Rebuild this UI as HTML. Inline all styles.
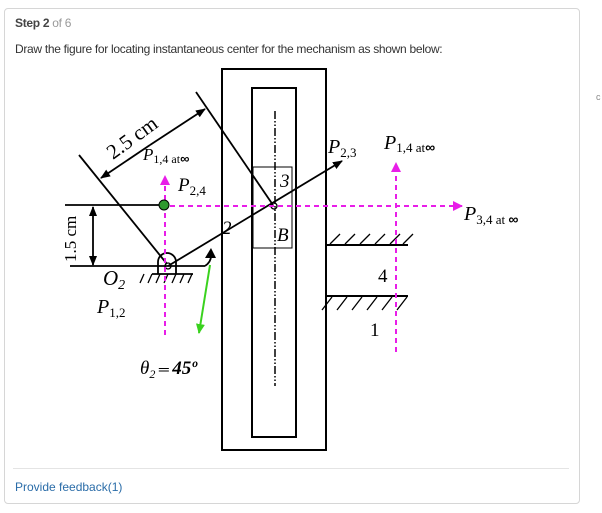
<!DOCTYPE html>
<html><head><meta charset="utf-8"><style>
body{margin:0;width:602px;height:513px;background:#fff;font-family:"Liberation Sans",Arial,sans-serif;position:relative;overflow:hidden}
.card{position:absolute;left:4px;top:8px;width:574px;height:494px;border:1px solid #d6d6d6;border-radius:4px;background:#fff}
.t1{position:absolute;left:15px;top:16px;font-size:12px;color:#444;font-weight:bold;letter-spacing:-0.3px}
.t1 span{font-weight:normal;color:#999}
.t2{position:absolute;left:15px;top:42px;font-size:12px;color:#333;letter-spacing:-0.3px}
.sep{position:absolute;left:13px;top:468px;width:556px;height:1px;background:#e4e4e4}
.fb{position:absolute;left:15px;top:480px;font-size:12px;color:#2a6ca8}
svg{position:absolute;left:0;top:0}
</style></head><body>
<div class="card"></div>
<div class="t1">Step 2 <span>of 6</span></div>
<div class="t2">Draw the figure for locating instantaneous center for the mechanism as shown below:</div>
<div class="sep"></div>
<div class="fb">Provide feedback(1)</div>
<div style="position:absolute;left:596px;top:92px;font-size:9px;color:#888">c</div>
<svg width="602" height="513" font-family="'Liberation Serif',serif">
<defs>
<marker id="ab" markerWidth="10" markerHeight="8" refX="9" refY="4" orient="auto" markerUnits="userSpaceOnUse"><path d="M0,0L10,4L0,8z" fill="#000"/></marker>
<marker id="am" markerWidth="10" markerHeight="10" refX="9" refY="5" orient="auto" markerUnits="userSpaceOnUse"><path d="M0,0L10,5L0,10z" fill="#e81ee8"/></marker>
<marker id="ag" markerWidth="10" markerHeight="9" refX="9" refY="4.5" orient="auto" markerUnits="userSpaceOnUse"><path d="M0,0L10,4.5L0,9z" fill="#3ad21e"/></marker>
</defs>
<g stroke="#000" fill="none">
<rect x="222" y="69" width="104" height="381" stroke-width="2"/>
<rect x="252" y="88" width="44" height="349" stroke-width="2"/>
<rect x="253" y="167" width="39" height="81" stroke-width="1"/>
<line x1="275" y1="111" x2="275" y2="386" stroke-width="1.5" stroke-dasharray="8,2,1.5,2,1.5,2"/>
<line x1="79" y1="155" x2="167" y2="264" stroke-width="1.8"/>
<line x1="196" y1="92" x2="273" y2="205" stroke-width="1.8"/>
<line x1="150" y1="145" x2="205" y2="109" stroke-width="1.8" marker-end="url(#ab)"/>
<line x1="150" y1="145" x2="101" y2="178" stroke-width="1.8" marker-end="url(#ab)"/>
<line x1="65" y1="205" x2="160" y2="205" stroke-width="1.8"/>
<line x1="70" y1="266" x2="205" y2="266" stroke-width="1.8"/>
<line x1="93" y1="236" x2="93" y2="207" stroke-width="1.8" marker-end="url(#ab)"/>
<line x1="93" y1="236" x2="93" y2="265" stroke-width="1.8" marker-end="url(#ab)"/>
<line x1="168" y1="266" x2="342" y2="161" stroke-width="1.8" marker-end="url(#ab)"/>
<circle cx="274" cy="206" r="3" stroke-width="1.3"/>
<path d="M158,274 L158,262 A9,9 0 0 1 176,262 L176,274 M152,274 L193,274" stroke-width="1.8"/>
<circle cx="168" cy="266" r="3" stroke-width="1.3"/>
<path d="M140,283l4,-9M148,283l4,-9M156,283l4,-9M164,283l4,-9M172,283l4,-9M180,283l4,-9M188,283l4,-9" stroke-width="1.3"/>
<path d="M205,266 Q211,262 211,256" stroke-width="1.8"/>
<line x1="327" y1="245" x2="408" y2="245" stroke-width="2"/>
<path d="M330,244l10,-10M345,244l10,-10M360,244l10,-10M375,244l10,-10M390,244l10,-10M403,244l10,-10" stroke-width="1.3"/>
<line x1="327" y1="296" x2="408" y2="296" stroke-width="2"/>
<path d="M322,310l10,-13M337,310l10,-13M352,310l10,-13M367,310l10,-13M382,310l10,-13M397,310l10,-13" stroke-width="1.3"/>
</g>
<path d="M205,258 L211,248 L216,258 z" fill="#000"/>
<g stroke="#e81ee8" stroke-width="2" stroke-dasharray="5,4" fill="none">
<line x1="170" y1="206" x2="462" y2="206" marker-end="url(#am)"/>
<line x1="165" y1="335" x2="165" y2="176" marker-end="url(#am)"/>
<line x1="396" y1="352" x2="396" y2="163" marker-end="url(#am)"/>
</g>
<circle cx="164" cy="205" r="5" fill="#2e9a2e" stroke="#000" stroke-width="1"/>
<line x1="210" y1="265" x2="199" y2="333" stroke="#3ad21e" stroke-width="2" marker-end="url(#ag)"/>
<g fill="#000" font-size="19">
<text transform="translate(113,160) rotate(-36)" font-size="21">2.5 cm</text>
<text transform="translate(76,262) rotate(-90)" font-size="17">1.5 cm</text>
<text x="143" y="160" font-style="italic" font-size="17">P<tspan font-style="normal" font-size="12" dy="3">1,4 at</tspan><tspan font-family="'Liberation Sans'" font-weight="bold" font-size="13">∞</tspan></text>
<text x="178" y="191" font-style="italic">P<tspan font-style="normal" font-size="13" dy="4">2,4</tspan></text>
<text x="222" y="234" font-style="italic">2</text>
<text x="280" y="187" font-style="italic">3</text>
<text x="277" y="241" font-style="italic">B</text>
<text x="103" y="285" font-style="italic" font-size="21">O<tspan font-size="14" dy="4">2</tspan></text>
<text x="97" y="313" font-style="italic" font-size="20">P<tspan font-style="normal" font-size="13" dy="4">1,2</tspan></text>
<text x="328" y="153" font-style="italic" font-size="20">P<tspan font-style="normal" font-size="13" dy="4">2,3</tspan></text>
<text x="384" y="149" font-style="italic" font-size="20">P<tspan font-style="normal" font-size="13" dy="3">1,4 at</tspan><tspan font-family="'Liberation Sans'" font-weight="bold" font-size="14">∞</tspan></text>
<text x="464" y="220" font-style="italic" font-size="20">P<tspan font-style="normal" font-size="13" dy="4">3,4 at </tspan><tspan font-family="'Liberation Sans'" font-weight="bold" font-size="14">∞</tspan></text>
<text x="378" y="282">4</text>
<text x="370" y="336">1</text>
<text x="140" y="374" font-style="italic">θ<tspan font-size="12" dy="4">2</tspan><tspan dy="-4" font-size="14"> ═ </tspan><tspan font-weight="bold">45º</tspan></text>
</g>
</svg>
</body></html>
